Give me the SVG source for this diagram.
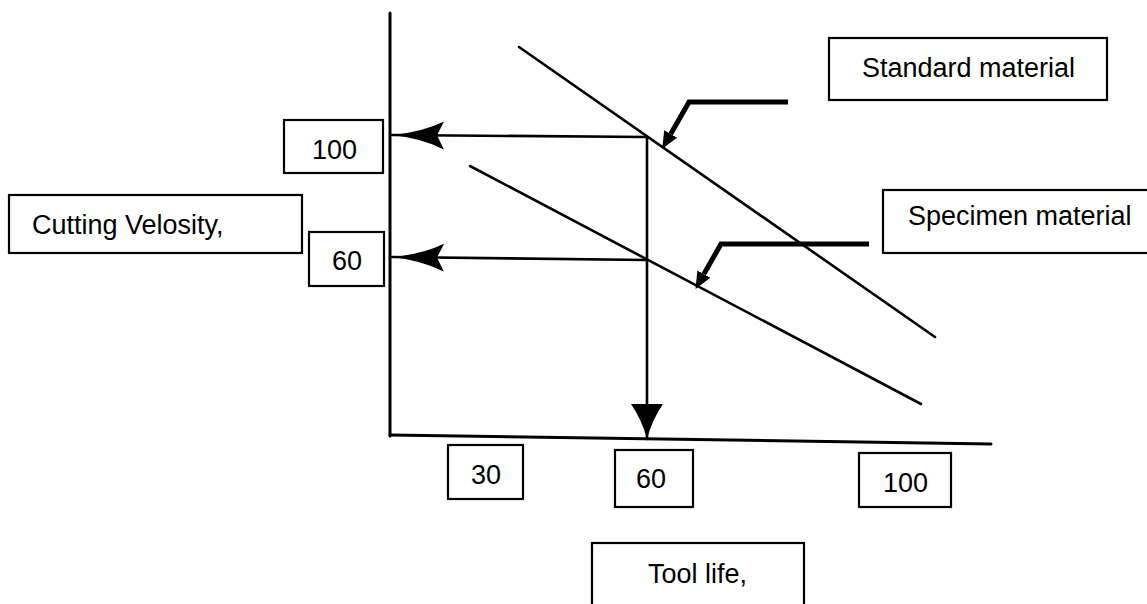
<svg xmlns="http://www.w3.org/2000/svg" width="1147" height="604" viewBox="0 0 1147 604">
  <style>
    .box { fill: #fff; stroke: #000; stroke-width: 2.2; }
    .lbl { font-family: "Liberation Sans", Arial, sans-serif; font-size: 27px; fill: #000; }
    .ax { stroke: #000; stroke-width: 3; fill: none; stroke-linecap: round; }
    .ln { stroke: #000; stroke-width: 2.6; fill: none; stroke-linecap: round; }
    .ldr { stroke: #000; stroke-width: 5; fill: none; stroke-linejoin: miter; }
  </style>
  <defs>
    <marker id="barb" markerUnits="userSpaceOnUse" viewBox="0 0 52 30" markerWidth="52" markerHeight="30" refX="52" refY="15" orient="auto">
      <path d="M52,15 Q22,12 0,1 L7,15 L0,29 Q22,18 52,15 Z" fill="#000"/>
    </marker>
    <marker id="down" markerUnits="userSpaceOnUse" viewBox="0 0 35 32" markerWidth="35" markerHeight="32" refX="35" refY="16" orient="auto">
      <path d="M35,16 Q16,11 0,0 L0,32 Q16,21 35,16 Z" fill="#000"/>
    </marker>
    <marker id="ldr" markerUnits="userSpaceOnUse" viewBox="0 0 17 15" markerWidth="17" markerHeight="15" refX="0" refY="7.5" orient="auto">
      <path d="M0,0 L17,7.5 L0,15 Z" fill="#000"/>
    </marker>
  </defs>

  <g id="connectors">
    <!-- axes -->
    <line class="ax" x1="390" y1="13" x2="390" y2="436"/>
    <line class="ax" x1="390" y1="435" x2="991" y2="444"/>
    <!-- material lines -->
    <line class="ln" x1="519" y1="47" x2="935" y2="337"/>
    <line class="ln" x1="470" y1="166" x2="921" y2="404"/>
    <!-- projection arrows -->
    <line class="ln" x1="647" y1="137" x2="392" y2="135" marker-end="url(#barb)"/>
    <line class="ln" x1="647" y1="260" x2="392" y2="257" marker-end="url(#barb)"/>
    <line class="ln" x1="647" y1="137" x2="647" y2="439" marker-end="url(#down)"/>
    <!-- leaders -->
    <polyline class="ldr" points="788,102 689,102 670.7,133.9" marker-end="url(#ldr)"/>
    <polyline class="ldr" points="869,244 721,244 703.9,274.1" marker-end="url(#ldr)"/>
  </g>

  <g id="standard-material">
    <rect class="box" x="829" y="38" width="278" height="62"/>
    <text class="lbl" x="862" y="77">Standard material</text>
  </g>
  <g id="specimen-material">
    <rect class="box" x="883" y="190" width="270" height="63"/>
    <text class="lbl" x="908" y="225">Specimen material</text>
  </g>
  <g id="cutting-velocity">
    <rect class="box" x="9" y="195" width="293" height="58"/>
    <text class="lbl" x="32" y="234">Cutting Velosity,</text>
  </g>
  <g id="v100">
    <rect class="box" x="284" y="120" width="99" height="53"/>
    <text class="lbl" x="312" y="159">100</text>
  </g>
  <g id="v60">
    <rect class="box" x="309" y="232" width="75" height="54"/>
    <text class="lbl" x="332" y="270">60</text>
  </g>
  <g id="t30">
    <rect class="box" x="448" y="445" width="75" height="54"/>
    <text class="lbl" x="471" y="484">30</text>
  </g>
  <g id="t60">
    <rect class="box" x="615" y="450" width="78" height="57"/>
    <text class="lbl" x="636" y="488">60</text>
  </g>
  <g id="t100">
    <rect class="box" x="859" y="453" width="92" height="54"/>
    <text class="lbl" x="883" y="492">100</text>
  </g>
  <g id="tool-life">
    <rect class="box" x="592" y="543" width="212" height="70"/>
    <text class="lbl" x="648" y="583">Tool life,</text>
  </g>
</svg>
